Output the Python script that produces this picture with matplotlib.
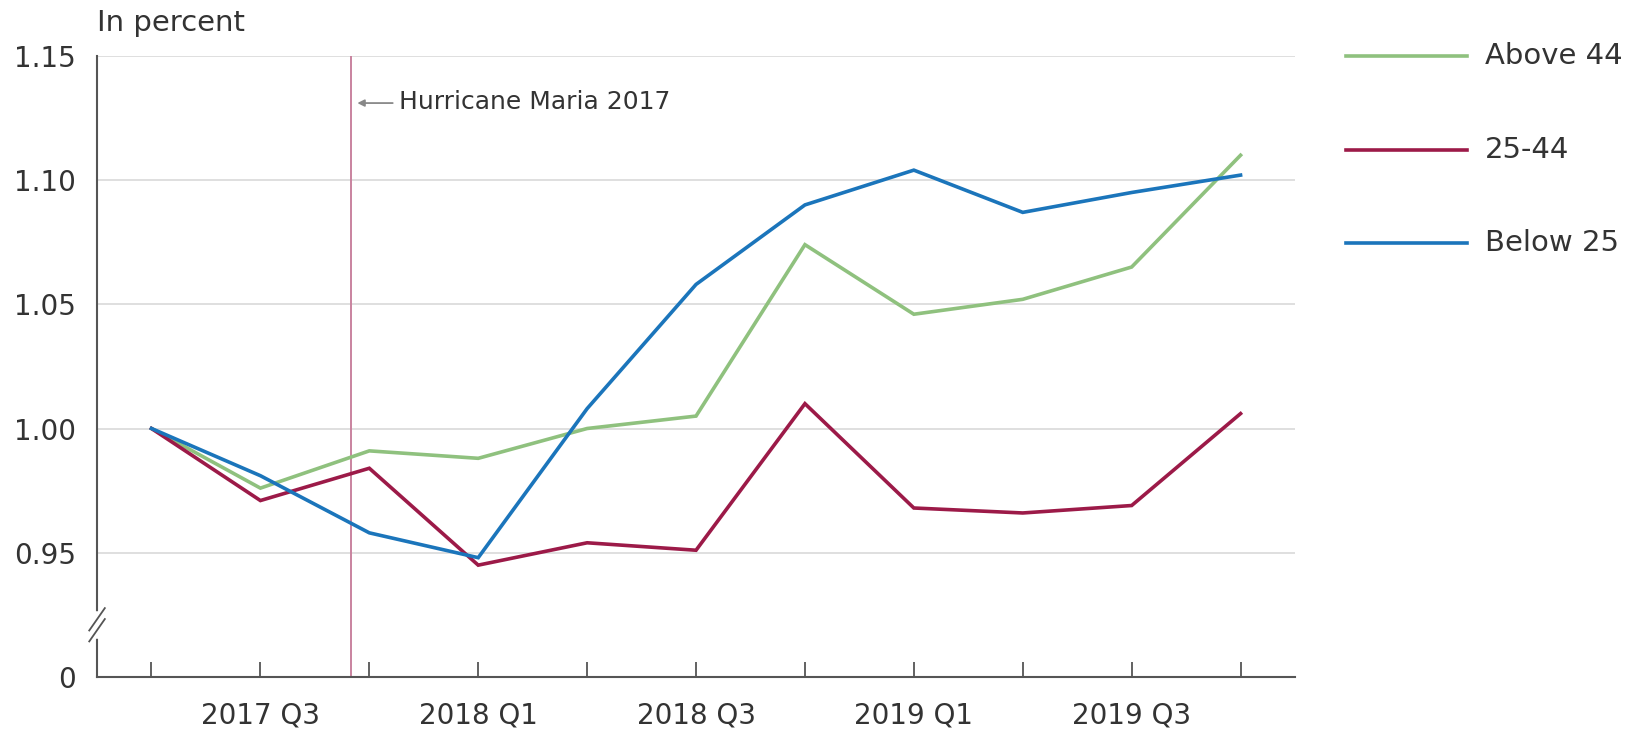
import matplotlib
matplotlib.use("Agg")
import matplotlib.pyplot as plt
import numpy as np

plt.rcParams['font.family'] = ['DejaVu Sans']

quarters = ["2017 Q2", "2017 Q3", "2017 Q4", "2018 Q1", "2018 Q2", "2018 Q3",
            "2018 Q4", "2019 Q1", "2019 Q2", "2019 Q3", "2019 Q4"]
above_44 = [1.000, 0.976, 0.991, 0.988, 1.000, 1.005, 1.074, 1.046, 1.052, 1.065, 1.110]
age_25_44 = [1.000, 0.971, 0.984, 0.945, 0.954, 0.951, 1.010, 0.968, 0.966, 0.969, 1.006]
below_25 = [1.000, 0.981, 0.958, 0.948, 1.008, 1.058, 1.090, 1.104, 1.087, 1.095, 1.102]
series_names = ["Above 44", "25-44", "Below 25"]
ytick_vals = [0.90, 0.95, 1.00, 1.05, 1.10, 1.15]
ytick_labels = ["0", "0.95", "1.00", "1.05", "1.10", "1.15"]
hurricane_pos = 1.835
hurricane_label = "Hurricane Maria 2017"

colors = ["#8fc17e", "#9c1a48", "#1b75bb"]
axis_col = "#555555"
text_col = "#333333"

fig = plt.figure(figsize=(16.31, 7.35), dpi=100)
ax = fig.add_axes([0.0595, 0.079, 0.7345, 0.845])

x = np.arange(len(quarters))
for vals, name, c in zip([above_44, age_25_44, below_25], series_names, colors):
    ax.plot(x, vals, color=c, lw=2.6, solid_joinstyle='miter', label=name, zorder=3)

ax.set_xlim(-0.5, len(quarters) - 0.5)
ax.set_ylim(0.90, 1.15)

for v in ytick_vals[1:]:
    ax.axhline(v, color="#d9d9d9", lw=1.2, zorder=1)

ax.set_yticks(ytick_vals)
ax.set_yticklabels(ytick_labels)
ax.set_xticks(x)
ax.set_xticklabels([q if i % 2 == 1 else "" for i, q in enumerate(quarters)])
ax.tick_params(axis='x', direction='in', length=11, width=1.3, color=axis_col,
               labelsize=20, labelcolor=text_col, pad=18)
ax.tick_params(axis='y', length=0, labelsize=20, labelcolor=text_col, pad=15)

for s in ['top', 'right']:
    ax.spines[s].set_visible(False)
for s in ['left', 'bottom']:
    ax.spines[s].set_color(axis_col)
    ax.spines[s].set_linewidth(1.5)

# hurricane marker
ax.axvline(hurricane_pos, color="#c9839f", lw=1.4, zorder=2)
ax.annotate("", xy=(hurricane_pos + 0.055, 1.131), xytext=(hurricane_pos + 0.38, 1.131),
            arrowprops=dict(arrowstyle="-|>", color="#888888", lw=1.3,
                            mutation_scale=10, shrinkA=0, shrinkB=0))
ax.text(hurricane_pos + 0.44, 1.1315, hurricane_label, fontsize=18, color=text_col,
        va='center', ha='left')

# axis break
yb = 0.921
ax.plot([0, 0], [yb - 0.0045, yb + 0.0045], transform=ax.get_yaxis_transform(),
        color='white', lw=4, zorder=5, clip_on=False)
dx = 0.0065
for off in (-0.0022, 0.0022):
    ax.plot([-dx, dx], [yb + off - 0.0045, yb + off + 0.0045],
            transform=ax.get_yaxis_transform(), color=axis_col, lw=1.3,
            zorder=6, clip_on=False)

fig.text(0.0595, 0.969, "In percent", fontsize=21, color=text_col, ha='left', va='center')

# legend
leg_y = [1.15, 1.112, 1.0746]
for name, c, ly in zip(series_names, colors, leg_y):
    yfig = fig.transFigure.inverted().transform(ax.transData.transform((0, ly)))[1]
    fig.add_artist(plt.Line2D([1346 / 1631, 1467 / 1631], [yfig, yfig], color=c, lw=2.6))
    fig.text(1485 / 1631, yfig, name, fontsize=21, color=text_col, va='center', ha='left')

fig.savefig("out.png", dpi=100, facecolor='white')
